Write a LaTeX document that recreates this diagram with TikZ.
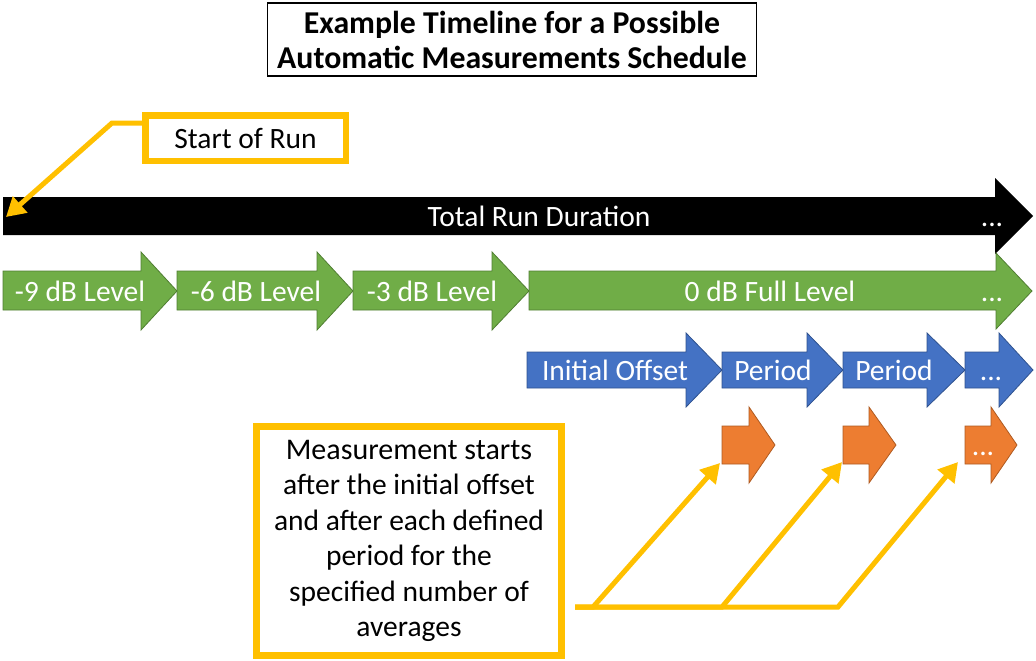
\documentclass[tikz,border=0pt]{standalone}
\usepackage{fontspec}
\setmainfont{Carlito}
\usetikzlibrary{arrows.meta,calc}
\definecolor{ygold}{HTML}{FFC000}
\definecolor{ggreen}{HTML}{70AD47}
\definecolor{ggreendk}{HTML}{507E32}
\definecolor{bblue}{HTML}{4472C4}
\definecolor{bbluedk}{HTML}{2F528F}
\definecolor{oorange}{HTML}{ED7D31}
\definecolor{oorangedk}{HTML}{AE5A21}
\newcommand{\basefont}{\fontsize{29.5pt}{35.4pt}\selectfont}
\newcommand{\titlefont}{\fontsize{31.8pt}{35pt}\selectfont\bfseries}
% style, x start, x body end, x tip, body top, body bottom, head top, head bottom
\newcommand{\blockarrow}[8]{\filldraw[#1] (#2,#5) -- (#3,#5) -- (#3,#7) -- (#4,{(#7+#8)/2}) -- (#3,#8) -- (#3,#6) -- (#2,#6) -- cycle;}
\begin{document}
\begin{tikzpicture}[x=1pt,y=-1pt,font=\basefont,
  lbl/.style={text=white,anchor=base,inner sep=0pt},
  blackarr/.style={fill=black,draw=none},
  greenarr/.style={fill=ggreen,draw=ggreendk,line width=0.8pt},
  bluearr/.style={fill=bblue,draw=bbluedk,line width=0.8pt},
  orangearr/.style={fill=oorange,draw=oorangedk,line width=0.8pt},
  callout/.style={draw=ygold,fill=white,text=black,align=center,inner sep=0pt},
  yline/.style={draw=ygold,line width=5pt,line join=miter,-{Triangle[length=19pt,width=21pt]}}]
\useasboundingbox (0,0) rectangle (1036,661);

% title
\node[draw=black,line width=1.5pt,minimum width=489pt,minimum height=73pt,align=center,
      font=\titlefont,inner sep=0pt] (title) at (512,39.5)
  {Example Timeline for a Possible\\Automatic Measurements Schedule};

% black arrow
\blockarrow{blackarr}{3}{995}{1033}{197}{235}{178}{254}
\node[lbl] (tot) at (539,226) {Total Run Duration};
\node[lbl] (totdots) at (992,226) {...};

% green arrows
\blockarrow{greenarr}{3}{141}{177}{271}{310}{252}{330}
\blockarrow{greenarr}{177}{317}{353}{271}{310}{252}{330}
\blockarrow{greenarr}{353}{492}{529}{271}{310}{252}{330}
\blockarrow{greenarr}{529}{996}{1032}{271}{310}{253}{329}
\node[lbl] (g1) at (80,301) {-9 dB Level};
\node[lbl] (g2) at (256,301) {-6 dB Level};
\node[lbl] (g3) at (432,301) {-3 dB Level};
\node[lbl] (g4) at (770,301) {0 dB Full Level};
\node[lbl] (g4dots) at (992,301) {...};

% blue arrows
\blockarrow{bluearr}{527}{686}{722}{352}{388}{333}{407}
\blockarrow{bluearr}{722}{807}{843}{352}{388}{333}{407}
\blockarrow{bluearr}{843}{927}{965}{352}{388}{333}{407}
\blockarrow{bluearr}{965}{999}{1033}{352}{388}{333}{407}
\node[lbl] (b1) at (615,380) {Initial Offset};
\node[lbl] (b2) at (773,380) {Period};
\node[lbl] (b3) at (894,380) {Period};
\node[lbl] (b4) at (991,380) {...};

% orange arrows
\blockarrow{orangearr}{722}{749}{775}{426}{464}{407}{483}
\blockarrow{orangearr}{843}{869}{896}{426}{464}{407}{483}
\blockarrow{orangearr}{965}{991}{1017}{426}{464}{407}{483}
\node[lbl] (o3dots) at (983,455) {...};

% callouts
\node[callout,line width=6.5pt,minimum width=200.5pt,minimum height=45.5pt] (sor) at (245.5,138) {Start of Run};
\node[callout,line width=7pt,minimum width=305pt,minimum height=229pt] (meas) at (409,541)
  {\fontsize{30pt}{35.4pt}\selectfont Measurement starts\\after the initial offset\\and after each defined\\period for the\\specified number of\\averages};

% connectors
\coordinate (runstart) at (6,217);
\draw[yline] ([yshift=15pt]sor.west) -- ++(-30,0) -- (runstart);

\coordinate (mj) at ([xshift=10pt,yshift=-66pt]meas.east);
\coordinate (ta) at (720,463);
\coordinate (tb) at (842,462);
\coordinate (tc) at (958,462);
\draw[yline] (mj) -- ++(18,0) -- (ta);
\draw[yline] (mj) -- ++(147,0) -- (tb);
\draw[yline] (mj) -- ++(263,0) -- (tc);
\end{tikzpicture}
\end{document}
